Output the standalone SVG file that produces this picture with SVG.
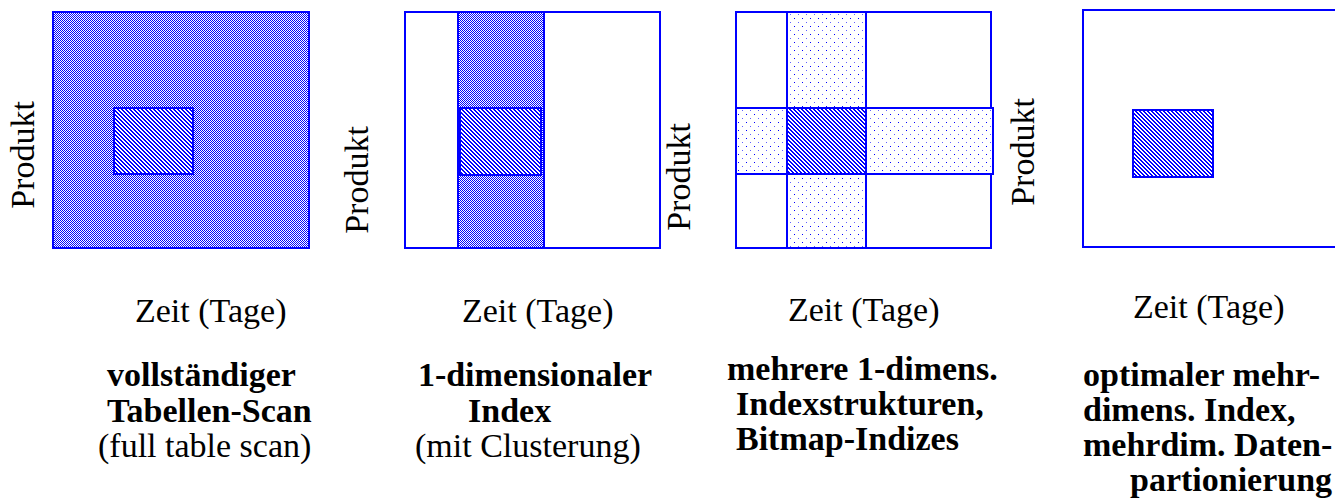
<svg xmlns="http://www.w3.org/2000/svg" width="1335" height="501" viewBox="0 0 1335 501">
<defs>
<pattern id="checker" width="2" height="2" patternUnits="userSpaceOnUse">
<rect width="2" height="2" fill="#fff"/>
<rect x="0" y="0" width="1" height="1" fill="#0000ff"/>
<rect x="1" y="1" width="1" height="1" fill="#0000ff"/>
</pattern>
<pattern id="stripes" width="4" height="4" patternUnits="userSpaceOnUse">
<rect width="4" height="4" fill="#fff"/>
<path d="M0,0h2v1h-2zM1,1h2v1h-2zM2,2h2v1h-2zM3,3h1v1h-1zM0,3h1v1h-1z" fill="#0000ff"/>
</pattern>
<pattern id="dots" width="8" height="8" patternUnits="userSpaceOnUse">
<rect width="8" height="8" fill="#fff"/>
<rect x="2" y="2" width="1" height="1" fill="#0000ff"/>
<rect x="6" y="6" width="1" height="1" fill="#6060ff"/>
</pattern>
</defs>
<style>
.box{stroke:#0000ff;stroke-width:2}
.lbl{font-family:'Liberation Serif','Times New Roman',Times,serif;font-size:34px;fill:#000}
.b{font-weight:bold}
</style>

<g id="panel1">
<rect class="box" x="53" y="12" width="256" height="236" fill="url(#checker)"/>
<rect class="box" x="114" y="108" width="79" height="66" fill="url(#stripes)"/>
<text class="lbl" transform="translate(34,155) rotate(-90)" text-anchor="middle">Produkt</text>
<text class="lbl" x="135" y="322">Zeit (Tage)</text>
<text class="lbl b" x="107" y="386">vollständiger</text>
<text class="lbl b" x="107" y="422">Tabellen-Scan</text>
<text class="lbl" x="98" y="457">(full table scan)</text>
</g>

<g id="panel2">
<rect class="box" x="405" y="12" width="255" height="236" fill="#fff"/>
<rect class="box" x="458" y="12" width="86" height="236" fill="url(#checker)"/>
<rect class="box" x="460" y="108" width="81" height="67" fill="url(#stripes)"/>
<text class="lbl" transform="translate(368,180) rotate(-90)" text-anchor="middle">Produkt</text>
<text class="lbl" x="462" y="322">Zeit (Tage)</text>
<text class="lbl b" x="535" y="386" text-anchor="middle">1-dimensionaler</text>
<text class="lbl b" x="468" y="422">Index</text>
<text class="lbl" x="415" y="457">(mit Clusterung)</text>
</g>

<g id="panel3">
<rect class="box" x="736" y="12" width="255" height="236" fill="#fff"/>
<rect class="box" x="787" y="12" width="79" height="236" fill="url(#dots)"/>
<rect class="box" x="736" y="108" width="257" height="66" fill="url(#dots)"/>
<rect class="box" x="787" y="108" width="79" height="66" fill="url(#stripes)"/>
<text class="lbl" transform="translate(690,177) rotate(-90)" text-anchor="middle">Produkt</text>
<text class="lbl" x="788" y="321">Zeit (Tage)</text>
<text class="lbl b" x="727" y="380">mehrere 1-dimens.</text>
<text class="lbl b" x="736" y="415">Indexstrukturen,</text>
<text class="lbl b" x="736" y="450">Bitmap-Indizes</text>
</g>

<g id="panel4">
<rect class="box" x="1083" y="10" width="260" height="237" fill="#fff"/>
<rect class="box" x="1133" y="110" width="80" height="67" fill="url(#stripes)"/>
<text class="lbl" transform="translate(1034,152) rotate(-90)" text-anchor="middle">Produkt</text>
<text class="lbl" x="1133" y="318">Zeit (Tage)</text>
<text class="lbl b" x="1083" y="386">optimaler mehr-</text>
<text class="lbl b" x="1083" y="421">dimens. Index,</text>
<text class="lbl b" x="1083" y="456">mehrdim. Daten-</text>
<text class="lbl b" x="1130" y="491">partionierung</text>
</g>

<g id="connectors"></g>
</svg>
